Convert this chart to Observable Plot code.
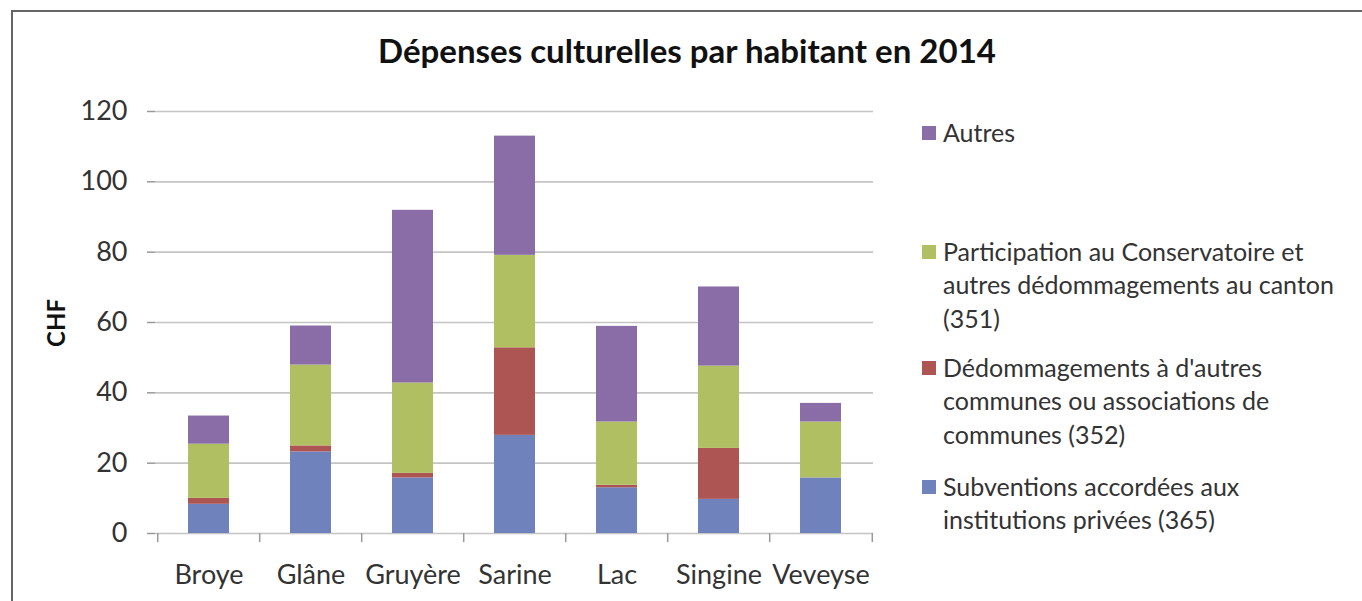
<!DOCTYPE html>
<html>
<head>
<meta charset="utf-8">
<script src="https://cdn.jsdelivr.net/npm/d3@7"></script>
<script src="https://cdn.jsdelivr.net/npm/@observablehq/plot@0.6"></script>
<style>
  html, body { margin: 0; padding: 0; background: #fff; }
  #wrap { position: relative; width: 1362px; height: 601px; overflow: hidden; font-family: Lato, "Open Sans", sans-serif; color: #333; }
  #border { position: absolute; left: 11px; top: 10px; width: 1400px; height: 700px; border-top: 2px solid #666; border-left: 2px solid #666; }
  #title { position: absolute; top: 30px; left: 0; width: 1374px; text-align: center; font-weight: bold; font-size: 33px; color: #111; }
  #chart { position: absolute; left: 0; top: 90px; }
  #ylabel { position: absolute; left: 55px; top: 323px; transform: translate(-50%, -50%) rotate(-90deg); font-weight: bold; font-size: 24px; color: #111; }
  .leg { position: absolute; left: 922px; font-size: 25px; line-height: 33.3px; color: #333; }
  .leg .sw { position: absolute; left: 0; top: 10px; width: 14px; height: 14px; }
  .leg .tx { position: absolute; left: 21px; top: 0; white-space: nowrap; }
</style>
</head>
<body>
<div id="wrap">
  <div id="border"></div>
  <div id="title">Dépenses culturelles par habitant en 2014</div>
  <div id="chart"></div>
  <div id="ylabel">CHF</div>
  <div id="legend"></div>
</div>
<script>
const regions = ["Broye", "Glâne", "Gruyère", "Sarine", "Lac", "Singine", "Veveyse"];
const subventions    = [8.3, 23.2, 15.8, 27.9, 13.0, 9.7, 15.8];
const dedommagements = [1.7, 1.7, 1.3, 24.9, 0.7, 14.5, 0];
const participation  = [15.4, 23.0, 25.7, 26.3, 18.0, 23.4, 15.9];
const autres         = [8.0, 11.1, 49.1, 33.9, 27.2, 22.5, 5.3];
const yTicks = [0, 20, 40, 60, 80, 100, 120];

const seriesNames = [
  "Subventions accordées aux institutions privées (365)",
  "Dédommagements à d'autres communes ou associations de communes (352)",
  "Participation au Conservatoire et autres dédommagements au canton (351)",
  "Autres"
];
const seriesLines = [
  ["Subventions accordées aux", "institutions privées (365)"],
  ["Dédommagements à d'autres", "communes ou associations de", "communes (352)"],
  ["Participation au Conservatoire et", "autres dédommagements au canton", "(351)"],
  ["Autres"]
];
const seriesColors = ["#6F82BC", "#AD5553", "#AFBF62", "#8A6CA6"];
const seriesValues = [subventions, dedommagements, participation, autres];

const data = [];
regions.forEach((r, i) => {
  seriesNames.forEach((s, j) => data.push({region: r, series: s, value: seriesValues[j][i]}));
});

const W = 900, H = 511, mL = 155, mR = 27, mT = 21, mB = 68;
const step = (W - mL - mR) / regions.length;
const boundaries = regions.map((r, i) => ({region: r, dx: -step / 2})).concat([{region: regions[regions.length - 1], dx: step / 2}]);

const chart = Plot.plot({
  width: W, height: H,
  marginLeft: mL, marginRight: mR, marginTop: mT, marginBottom: mB,
  style: {fontFamily: "Lato, 'Open Sans', sans-serif", color: "#333", background: "transparent"},
  x: {domain: regions, paddingInner: 0.6, paddingOuter: 0.3, label: null},
  y: {domain: [0, 120], label: null},
  color: {domain: seriesNames, range: seriesColors},
  marks: [
    Plot.gridY(yTicks, {stroke: "#c4c4c4", strokeOpacity: 1, strokeWidth: 1.6}),
    Plot.barY(data, {x: "region", y: "value", fill: "series", order: seriesNames}),
    Plot.axisY(yTicks, {tickSize: 8, tickPadding: 20, fontSize: 27, stroke: "#999", strokeWidth: 1.5, fill: "#333", line: true, label: null}),
    Plot.axisX({tickSize: 0, tickPadding: 31, fontSize: 27, fill: "#333", stroke: "#999", strokeWidth: 1.6, line: true, label: null}),
    ...boundaries.map(b => Plot.ruleX([b.region], {y1: 0, y2: -2.6, dx: b.dx, stroke: "#999", strokeWidth: 1.5}))
  ]
});
document.getElementById("chart").appendChild(chart);

// legend (top to bottom: Autres, Participation, Dédommagements, Subventions)
const legendTops = [470, 351, 235, 116];
const legend = document.getElementById("legend");
for (let j = seriesNames.length - 1; j >= 0; j--) {
  const div = document.createElement("div");
  div.className = "leg";
  div.style.top = legendTops[j] + "px";
  const sw = document.createElement("div");
  sw.className = "sw";
  sw.style.background = seriesColors[j];
  const tx = document.createElement("div");
  tx.className = "tx";
  tx.innerHTML = seriesLines[j].join("<br>");
  div.appendChild(sw);
  div.appendChild(tx);
  legend.appendChild(div);
}
</script>
</body>
</html>
